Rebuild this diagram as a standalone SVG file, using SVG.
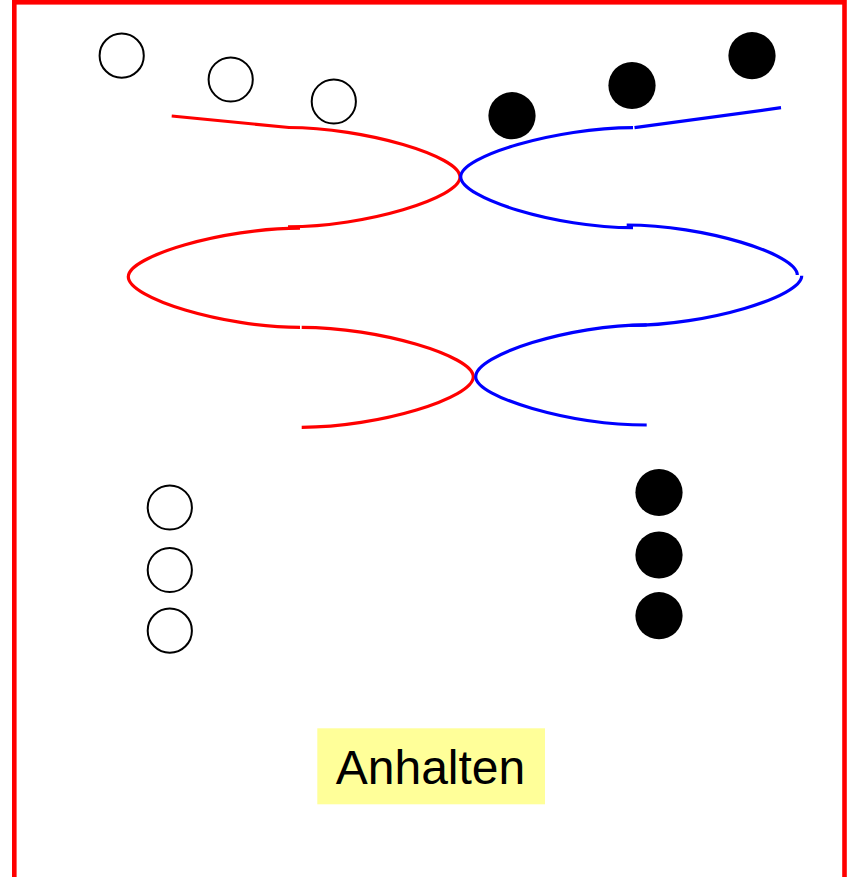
<svg xmlns="http://www.w3.org/2000/svg" width="850" height="877" viewBox="0 0 850 877">
<style>
.open{fill:#ffffff;stroke:#000000;stroke-width:2}
.full{fill:#000000;stroke:none}
.red{fill:none;stroke:#ff0000;stroke-width:3.2}
.blue{fill:none;stroke:#0000ff;stroke-width:3.2}
.lbl{font-family:"Liberation Sans",Arial,sans-serif;font-size:48px;fill:#000000}
</style>
<rect x="0" y="0" width="850" height="877" fill="#ffffff"/>
<rect id="frame" x="14.3" y="2.3" width="830.2" height="920" fill="none" stroke="#ff0000" stroke-width="4.6"/>
<g id="curves">
<g id="red-curve">
<path class="red" d="M171.7,116 L289,127.5"/>
<path class="red" d="M288,127.5 C365.4,127.5 460,156.2 460,177 C460,197.9 365.4,226.8 288,226.8"/>
<path class="red" d="M300,228.2 C222.7,228.2 128.3,256.3 128.3,276.7 C128.3,298 222.7,327.3 300,327.3"/>
<path class="red" d="M301.7,327.3 C378.9,327.3 473.3,356 473.3,376.7 C473.3,398 378.9,427.3 301.7,427.3"/>
</g>
<g id="blue-curve">
<path class="blue" d="M634.5,127.7 L781,107.7"/>
<path class="blue" d="M633,127.7 C555.5,127.7 460.7,156.1 460.7,176.7 C460.7,198.1 555.5,227.7 633,227.7"/>
<path class="blue" d="M626.7,225 C703.5,225 797.3,254 797.3,275"/>
<path class="blue" d="M801.7,275.8 C801.7,296.7 706.7,325.5 629,325.5"/>
<path class="blue" d="M646.7,324.8 C569.7,324.8 475.7,354.9 475.7,376.7 C475.7,397 569.7,425 646.7,425"/>
</g>
</g>
<g id="open-top-1"><circle class="open" cx="121.7" cy="55.7" r="22.1"/></g>
<g id="open-top-2"><circle class="open" cx="230.7" cy="79.5" r="22.1"/></g>
<g id="open-top-3"><circle class="open" cx="333.8" cy="101.5" r="22.1"/></g>
<g id="full-top-1"><circle class="full" cx="512" cy="115.7" r="23.6"/></g>
<g id="full-top-2"><circle class="full" cx="632" cy="85.5" r="23.6"/></g>
<g id="full-top-3"><circle class="full" cx="752" cy="55.7" r="23.6"/></g>
<g id="open-bottom-1"><circle class="open" cx="169.8" cy="507.5" r="22.1"/></g>
<g id="open-bottom-2"><circle class="open" cx="169.8" cy="570" r="22.1"/></g>
<g id="open-bottom-3"><circle class="open" cx="169.8" cy="630.7" r="22.1"/></g>
<g id="full-bottom-1"><circle class="full" cx="659" cy="492.5" r="23.6"/></g>
<g id="full-bottom-2"><circle class="full" cx="659" cy="555" r="23.6"/></g>
<g id="full-bottom-3"><circle class="full" cx="659" cy="615.7" r="23.6"/></g>
<g id="label">
<rect x="317.3" y="728.3" width="227.7" height="76" fill="#ffff99"/>
<text class="lbl" x="430.5" y="784" text-anchor="middle">Anhalten</text>
</g>
</svg>
